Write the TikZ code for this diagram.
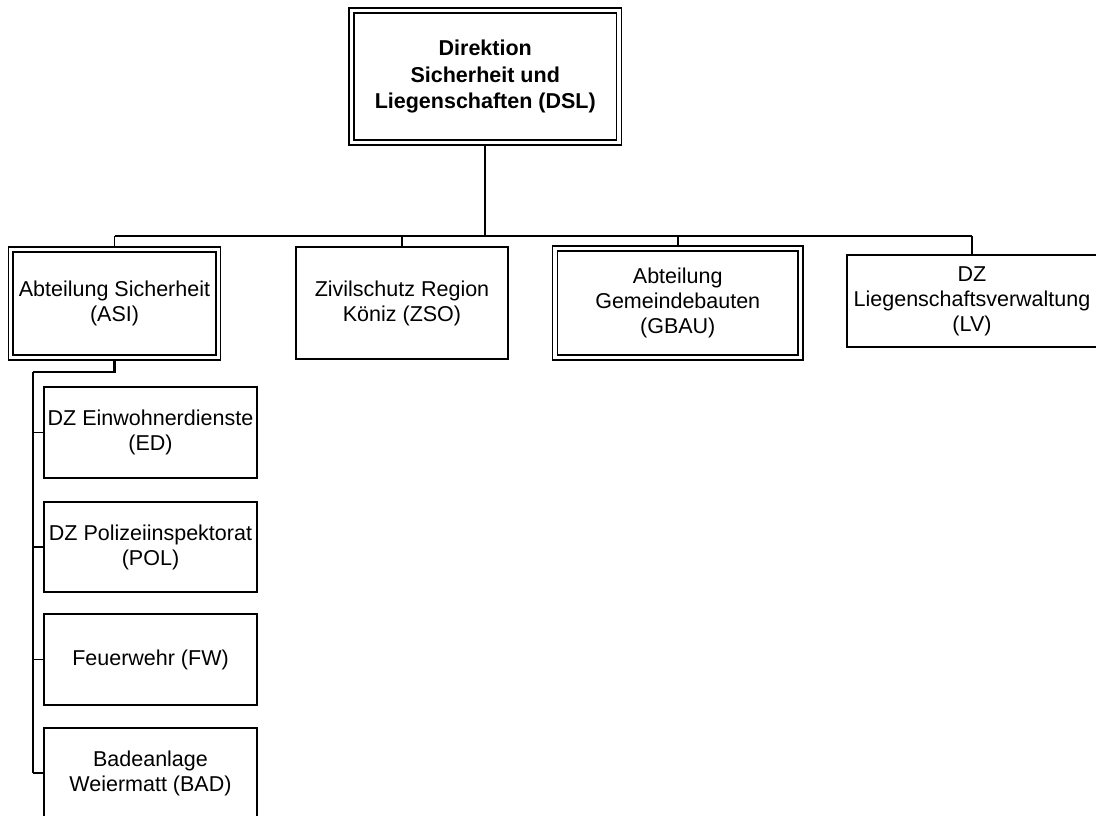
\documentclass[tikz,border=0pt]{standalone}
\usepackage{fontspec}
\setmainfont{Liberation Sans}
\usetikzlibrary{backgrounds}
\begin{document}
\begin{tikzpicture}[x=1pt,y=-1pt,
  orgbox/.style={draw, line width=1.8pt, fill=white, align=center, inner sep=0pt,
    font=\fontsize{21.5}{25}\selectfont},
  dblbox/.style={orgbox, double, double distance=3.2pt, line width=1.6pt},
  conn/.style={line width=1.8pt},
  thickconn/.style={line width=2.8pt}]
\useasboundingbox (0,0) rectangle (1096,816);
\clip (0,0) rectangle (1096,816);
\node[dblbox, minimum width=267.5pt, minimum height=132pt,
  font=\fontsize{21.5}{26.5}\selectfont\bfseries] (dsl) at (485.25,76.5)
  {Direktion\\Sicherheit und\\Liegenschaften (DSL)};
\node[dblbox, minimum width=207.5pt, minimum height=108pt] (asi) at (114.5,303.5)
  {Abteilung Sicherheit\\(ASI)};
\node[orgbox, minimum width=212pt, minimum height=112pt] (zso) at (402,303)
  {Zivilschutz Region\\Köniz (ZSO)};
\node[dblbox, minimum width=245.5pt, minimum height=109pt] (gbau) at (677.75,303)
  {Abteilung\\Gemeindebauten\\(GBAU)};
\node[orgbox, minimum width=250pt, minimum height=92pt] (lv) at (972,301)
  {DZ\\Liegenschaftsverwaltung\\(LV)};
\node[orgbox, minimum width=213pt, minimum height=91pt] (ed) at (150.5,432.5)
  {DZ Einwohnerdienste\\(ED)};
\node[orgbox, minimum width=213pt, minimum height=90pt] (pol) at (150.5,547)
  {DZ Polizeiinspektorat\\(POL)};
\node[orgbox, minimum width=213pt, minimum height=91pt] (fw) at (150.5,659.5)
  {Feuerwehr (FW)};
\node[orgbox, minimum width=213pt, minimum height=90pt] (bad) at (150.5,773)
  {Badeanlage\\Weiermatt (BAD)};
\coordinate (bus) at (0,236);
\coordinate (spine) at (33,372);
\begin{scope}[on background layer]
  \draw[conn] (dsl) -- (dsl |- bus);
  \draw[conn] (asi |- bus) -- (lv |- bus);
  \draw[conn] (asi) -- (asi |- bus);
  \draw[conn] (zso) -- (zso |- bus);
  \draw[conn] (gbau) -- (gbau |- bus);
  \draw[conn] (lv) -- (lv |- bus);
  \draw[thickconn] (asi) |- (spine);
  \draw[conn] (spine) -- (spine |- bad);
  \draw[conn] (spine |- ed) -- (ed);
  \draw[conn] (spine |- pol) -- (pol);
  \draw[conn] (spine |- fw) -- (fw);
  \draw[conn] (spine |- bad) -- (bad);
\end{scope}
\end{tikzpicture}
\end{document}
